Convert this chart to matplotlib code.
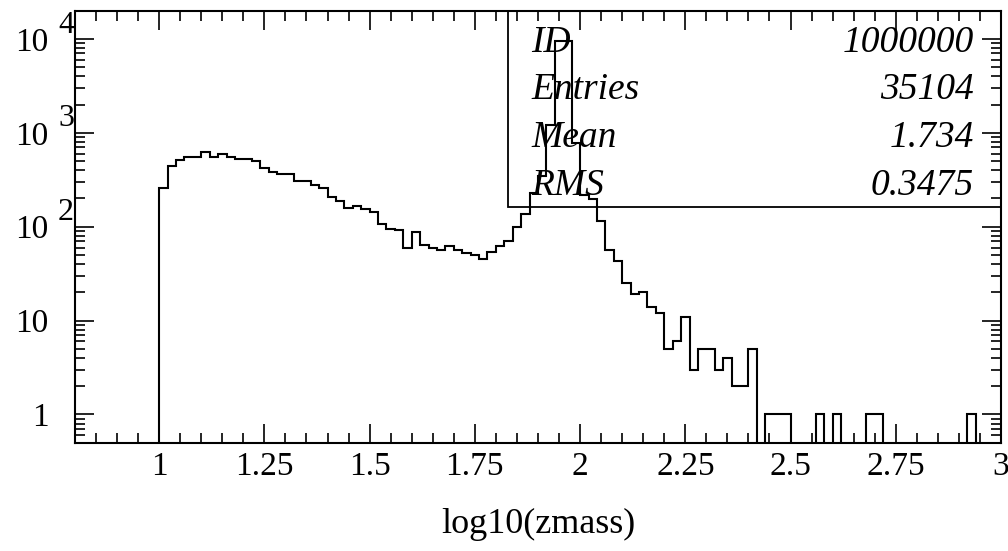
import numpy as np
import matplotlib
matplotlib.use("Agg")
import matplotlib.pyplot as plt
from matplotlib.ticker import FixedLocator, LogLocator, MultipleLocator, NullFormatter
from matplotlib.patches import Rectangle

# ---------------- data ----------------
bin_low = 1.0
bin_high = 3.0
counts = [
    261, 447, 514, 550, 550, 621, 550, 592, 557, 527,
    527, 498, 419, 383, 365, 365, 309, 309, 276, 261,
    209, 188, 157, 167, 153, 144, 107, 94, 93, 59,
    87, 64, 60, 57, 62, 56, 53, 50, 45, 54,
    63, 71, 100, 136, 228, 350, 1200, 9400, 9400, 780,
    220, 195, 114, 56, 43, 25, 19, 20, 14, 12,
    5, 6, 11, 3, 5, 5, 3, 4, 2, 2,
    5, 0, 1, 1, 1, 0, 0, 0, 1, 0,
    1, 0, 0, 0, 1, 1, 0, 0, 0, 0,
    0, 0, 0, 0, 0, 0, 1, 0, 0, 0,
]
x_tick_values = [1.0, 1.25, 1.5, 1.75, 2.0, 2.25, 2.5, 2.75, 3.0]
x_tick_labels = ["1", "1.25", "1.5", "1.75", "2", "2.25", "2.5", "2.75", "3"]
y_tick_values = [1, 10, 100, 1000, 10000]
y_tick_bases = ["1", "10", "10", "10", "10"]
y_tick_exponents = ["", "", "2", "3", "4"]
stat_names = ["ID", "Entries", "Mean", "RMS"]
stat_values = ["1000000", "35104", "1.734", "0.3475"]
x_label = "log10(zmass)"

# ---------------- style ----------------
plt.rcParams["font.family"] = ["Liberation Serif", "DejaVu Serif"]
W, H = 1008, 551
fig = plt.figure(figsize=(W / 100, H / 100), dpi=100)
ax_left, ax_right, ax_top, ax_bottom = 75, 1001, 10.7, 442.7
ax = fig.add_axes([ax_left / W, (H - ax_bottom) / H,
                   (ax_right - ax_left) / W, (ax_bottom - ax_top) / H])

edges = np.linspace(bin_low, bin_high, len(counts) + 1)
ax.stairs(counts, edges, baseline=0, color="black", lw=1.5, zorder=3)

ax.set_yscale("log")
ax.set_xlim(0.8, 3.0)
ax.set_ylim(0.5, 2e4)

for s in ax.spines.values():
    s.set_linewidth(1.5)

ax.xaxis.set_major_locator(FixedLocator(x_tick_values))
ax.set_xticklabels(x_tick_labels)
ax.xaxis.set_minor_locator(MultipleLocator(0.05))
ax.yaxis.set_major_locator(FixedLocator(y_tick_values))
ax.set_yticklabels(y_tick_bases)
ax.yaxis.set_minor_locator(LogLocator(base=10, subs=range(2, 10)))
ax.yaxis.set_minor_formatter(NullFormatter())

ax.tick_params(which="both", direction="in", top=True, right=True,
               labelsize=24, width=1.2)
ax.tick_params(which="major", length=13.5)
ax.tick_params(which="minor", length=7)
ax.tick_params(axis="y", which="major", pad=19)
ax.tick_params(axis="x", which="major", pad=6)

for v, e in zip(y_tick_values, y_tick_exponents):
    if e:
        ax.annotate(e, xy=(0, v), xycoords=("axes fraction", "data"),
                    xytext=(-6.5, 10), textcoords="offset points",
                    ha="center", va="center", fontsize=23,
                    annotation_clip=False)

ax.set_xlabel(x_label, fontsize=26, labelpad=19)

# stats box
box_x0 = (507.7 - ax_left) / (ax_right - ax_left)
box_y0 = (ax_bottom - 207.3) / (ax_bottom - ax_top)
ax.add_patch(Rectangle((box_x0, box_y0), 1 - box_x0, 1 - box_y0,
                       transform=ax.transAxes, fill=False, lw=1.3,
                       edgecolor="black", clip_on=False, zorder=2))
baselines_px = [52, 99, 147, 195]
for name, val, b in zip(stat_names, stat_values, baselines_px):
    yy = (ax_bottom - b) / (ax_bottom - ax_top)
    ax.text((531 - ax_left) / (ax_right - ax_left), yy, name,
            transform=ax.transAxes, fontsize=27, style="italic",
            ha="left", va="baseline", zorder=4)
    ax.text((974 - ax_left) / (ax_right - ax_left), yy, val,
            transform=ax.transAxes, fontsize=27, style="italic",
            ha="right", va="baseline", zorder=4)

fig.savefig("out.png", dpi=100)
